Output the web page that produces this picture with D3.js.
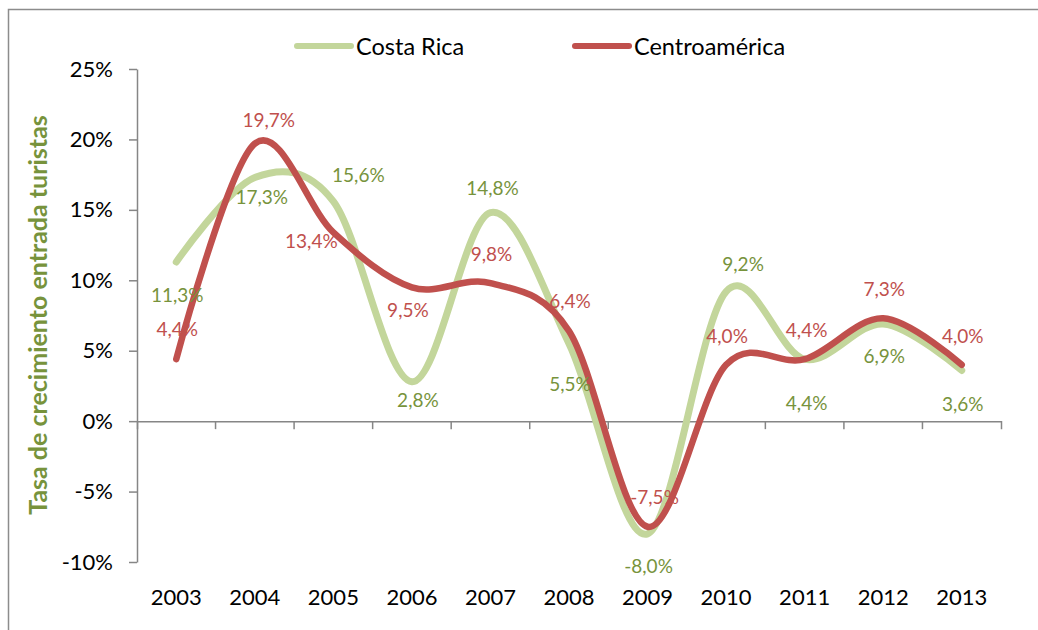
<!DOCTYPE html>
<html>
<head>
<meta charset="utf-8">
<script src="https://cdn.jsdelivr.net/npm/d3@7"></script>
<style>
  body { margin: 0; background: #fff; }
  text { font-family: Lato, "Open Sans", sans-serif; }
</style>
</head>
<body>
<svg id="chart" width="1038" height="630"></svg>
<script>
// data
let years = ["2003","2004","2005","2006","2007","2008","2009","2010","2011","2012","2013"];
let costaRica = [11.3, 17.3, 15.6, 2.8, 14.8, 5.5, -8.0, 9.2, 4.4, 6.9, 3.6];
let centroamerica = [4.4, 19.7, 13.4, 9.5, 9.8, 6.4, -7.5, 4.0, 4.4, 7.3, 4.0];
let yTicks = [-10, -5, 0, 5, 10, 15, 20, 25];

// label nudges (px) relative to each point, as placed in the original
let crLabelNudge = [[1,33],[7,19],[25,-27],[6,18],[2,-25],[1,40],[1,32],[17,-28],[2,43],[1,32],[1,33]];
let caLabelNudge = [[1,-31],[14,-24],[-22,8],[-4,22],[1,-30],[1,-30],[7,-30],[1,-29],[2,-30],[1,-30],[1,-29]];

let green = "#c3d69b", greenText = "#77933c", red = "#c0504d", axisGrey = "#868686";

let svg = d3.select("#chart");

// outer frame (only top and left edges are visible)
svg.append("path")
    .attr("d", "M8.5,640V9.5H1040")
    .attr("fill", "none")
    .attr("stroke", "#8c8c8c")
    .attr("stroke-width", 1.5);

let plotLeft = 137, plotRight = 1001, plotTop = 69, plotBottom = 562;

let x = d3.scaleBand().domain(years).range([plotLeft, plotRight]).padding(0);
let y = d3.scaleLinear().domain([-10, 25]).range([plotBottom, plotTop]);
let cx = d => x(d) + x.bandwidth() / 2;

// y axis
let yAxis = d3.axisLeft(y)
    .tickValues(yTicks)
    .tickFormat(d => d + "%")
    .tickSizeInner(8)
    .tickSizeOuter(0)
    .tickPadding(16);

let gy = svg.append("g").attr("transform", "translate(" + plotLeft + ",0)").call(yAxis);
gy.select(".domain").attr("stroke", axisGrey).attr("stroke-width", 1.5);
gy.selectAll(".tick line").attr("stroke", axisGrey).attr("stroke-width", 1.5);
gy.selectAll(".tick text")
    .attr("font-size", 22)
    .attr("font-family", "Lato, sans-serif")
    .attr("fill", "#000");

// x axis sits on 0%
let xAxis = d3.axisBottom(x).tickSizeInner(0).tickSizeOuter(8).tickPadding(0);
let gx = svg.append("g").attr("transform", "translate(0," + y(0) + ")").call(xAxis);
gx.select(".domain").attr("stroke", axisGrey).attr("stroke-width", 1.5);
gx.selectAll(".tick text")
    .attr("font-size", 22)
    .attr("font-family", "Lato, sans-serif")
    .attr("fill", "#000")
    .attr("dy", null)
    .attr("y", y(-10) - y(0) + 35)
    .attr("dominant-baseline", "central");

// boundary ticks between categories
gx.selectAll(".bound")
    .data(years.slice(1))
    .enter()
    .append("line")
    .attr("class", "bound")
    .attr("x1", d => x(d)).attr("x2", d => x(d))
    .attr("y1", 0).attr("y2", 8)
    .attr("stroke", axisGrey)
    .attr("stroke-width", 1.5);

// y axis title
svg.append("text")
    .attr("transform", "translate(37," + 315 + ") rotate(-90)")
    .attr("text-anchor", "middle")
    .attr("dominant-baseline", "central")
    .attr("font-size", 25)
    .attr("font-weight", "bold")
    .attr("fill", greenText)
    .text("Tasa de crecimiento entrada turistas");

// smooth lines
let line = d3.line()
    .x((d, i) => cx(years[i]))
    .y(d => y(d))
    .curve(d3.curveCardinal.tension(0));

svg.append("path")
    .datum(costaRica)
    .attr("d", line)
    .attr("fill", "none")
    .attr("stroke", green)
    .attr("stroke-width", 7)
    .attr("stroke-linecap", "round")
    .attr("stroke-linejoin", "round");

svg.append("path")
    .datum(centroamerica)
    .attr("d", line)
    .attr("fill", "none")
    .attr("stroke", red)
    .attr("stroke-width", 6.5)
    .attr("stroke-linecap", "round")
    .attr("stroke-linejoin", "round");

// data labels
let fmt = v => v.toFixed(1).replace(".", ",") + "%";

svg.selectAll(".crLabel")
    .data(costaRica)
    .enter()
    .append("text")
    .attr("class", "crLabel")
    .attr("x", (d, i) => cx(years[i]) + crLabelNudge[i][0])
    .attr("y", (d, i) => y(d) + crLabelNudge[i][1])
    .attr("text-anchor", "middle")
    .attr("dominant-baseline", "central")
    .attr("font-size", 19)
    .attr("fill", greenText)
    .text(fmt);

svg.selectAll(".caLabel")
    .data(centroamerica)
    .enter()
    .append("text")
    .attr("class", "caLabel")
    .attr("x", (d, i) => cx(years[i]) + caLabelNudge[i][0])
    .attr("y", (d, i) => y(d) + caLabelNudge[i][1])
    .attr("text-anchor", "middle")
    .attr("dominant-baseline", "central")
    .attr("font-size", 19)
    .attr("fill", red)
    .text(fmt);

// legend
let legend = [
    {name: "Costa Rica", color: green, x: 297},
    {name: "Centroamérica", color: red, x: 575}
];
let gl = svg.selectAll(".legend")
    .data(legend)
    .enter()
    .append("g")
    .attr("class", "legend")
    .attr("transform", d => "translate(" + d.x + ",46)");
gl.append("line")
    .attr("x1", 0).attr("x2", 54)
    .attr("stroke", d => d.color)
    .attr("stroke-width", 6)
    .attr("stroke-linecap", "round");
gl.append("text")
    .attr("x", 59)
    .attr("dominant-baseline", "central")
    .attr("font-size", 23.5)
    .attr("fill", "#000")
    .text(d => d.name);
</script>
</body>
</html>
